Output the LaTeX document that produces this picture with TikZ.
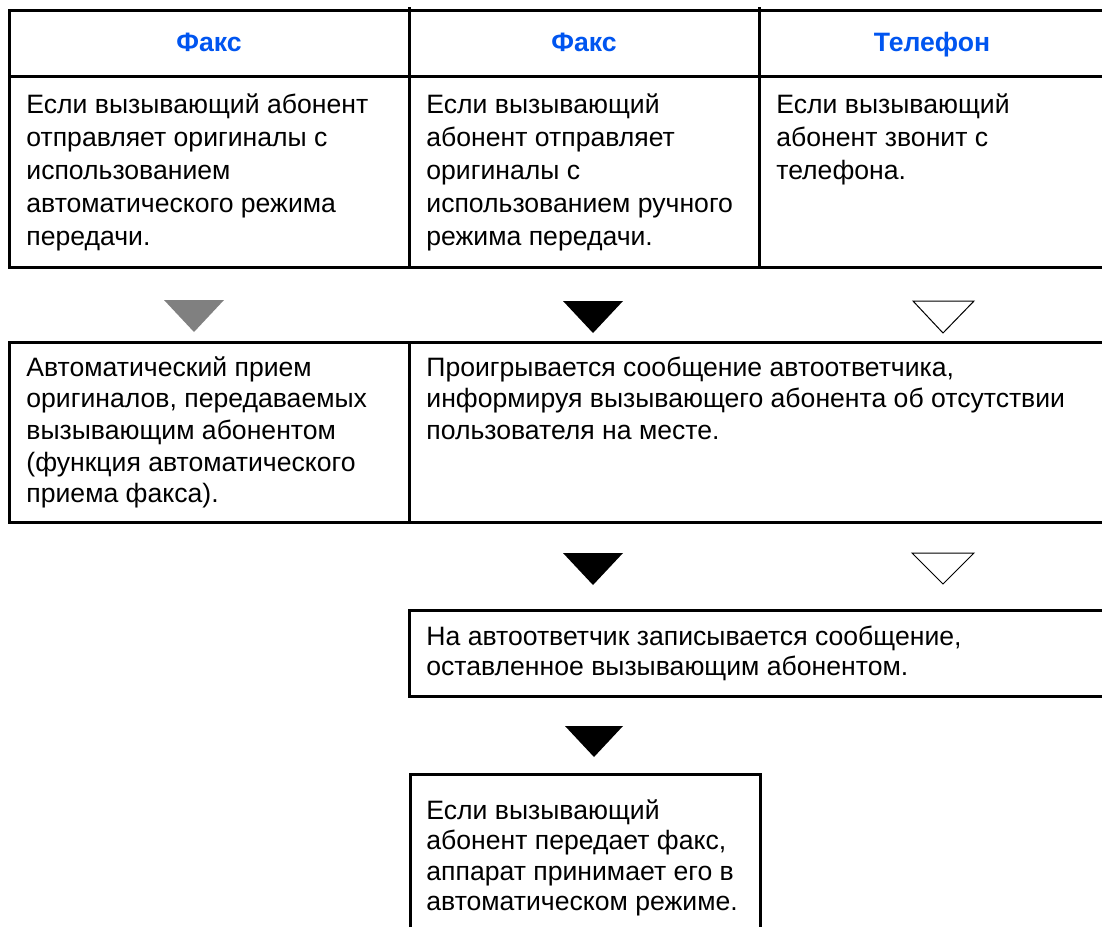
\documentclass[tikz,border=0pt]{standalone}
\usepackage{fontspec}
\setmainfont{Liberation Sans}
\usepackage{xcolor}
\usepackage{tikz}
\usetikzlibrary{positioning, calc}
\definecolor{headblue}{RGB}{0,85,240}
\definecolor{arrowgray}{RGB}{128,128,128}
\newcommand{\celllines}[1]{\begin{tabular}[t]{@{}l@{}}#1\end{tabular}}

\begin{document}
\begin{tikzpicture}[x=0.5pt, y=-0.5pt,
    frame/.style={black, line width=1.5pt},
    head/.style={font=\fontsize{13.3}{15.75}\selectfont\bfseries, text=headblue, anchor=base, inner sep=0pt},
    cell/.style={font=\fontsize{13.3}{#1}\selectfont, anchor=base west, inner sep=0pt},
    cell/.default=15.75pt,
    tri/.style={line width=0.5pt}]
  \useasboundingbox (0,0) rectangle (1102,927);
  % top table
  \draw[frame] (1102,10) -- (9,10) -- (9,267) -- (1102,267);
  \draw[frame] (9,76) -- (1102,76);
  \draw[frame] (409,7) -- (409,267);
  \draw[frame] (759,7) -- (759,267);
  \node[head] (fax1) at (209,51) {Факс};
  \node[head] (fax2) at (584,51) {Факс};
  \node[head] (phone) at (932,51) {Телефон};
  \node[cell=16.6pt] (autosend) at (26,113) {\celllines{Если вызывающий абонент\\отправляет оригиналы с\\использованием\\автоматического режима\\передачи.}};
  \node[cell=16.6pt] (manualsend) at (426,113) {\celllines{Если вызывающий\\абонент отправляет\\оригиналы с\\использованием ручного\\режима передачи.}};
  \node[cell=16.6pt] (phonecall) at (776,113) {\celllines{Если вызывающий\\абонент звонит с\\телефона.}};
  % first row of triangles
  \fill[arrowgray] (164,300) -- (224,300) -- (194,332) -- cycle;
  \fill[black] (563,301) -- (623,301) -- (593,333) -- cycle;
  \draw[tri] (913,301) -- (974,301) -- (943,333) -- cycle;
  % second table
  \draw[frame] (1102,342) -- (9,342) -- (9,522) -- (1102,522);
  \draw[frame] (409,342) -- (409,522);
  \node[cell=15.85pt] (autorecv) at (26,376) {\celllines{Автоматический прием\\оригиналов, передаваемых\\вызывающим абонентом\\(функция автоматического\\приема факса).}};
  \node[cell=15.85pt] (playmsg) at (426,376) {\celllines{Проигрывается сообщение автоответчика,\\информируя вызывающего абонента об отсутствии\\пользователя на месте.}};
  % second row of triangles
  \fill[black] (563,553) -- (623,553) -- (593,585) -- cycle;
  \draw[tri] (912,553) -- (974,553) -- (943,584) -- cycle;
  % third box
  \draw[frame] (1102,610) -- (409,610) -- (409,696) -- (1102,696);
  \node[cell=15pt] (recordmsg) at (426,645) {\celllines{На автоответчик записывается сообщение,\\оставленное вызывающим абонентом.}};
  % last triangle
  \fill[black] (565,726) -- (623,726) -- (594,757) -- cycle;
  % last box
  \draw[frame] (410,927) -- (410,774) -- (760,774) -- (760,927);
  \node[cell=15.3pt] (faxrecv) at (426,819) {\celllines{Если вызывающий\\абонент передает факс,\\аппарат принимает его в\\автоматическом режиме.}};
\end{tikzpicture}
\end{document}
